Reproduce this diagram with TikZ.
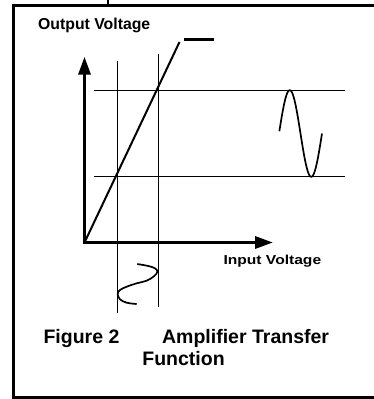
\documentclass[tikz,border=0pt]{standalone}
\usepackage{fontspec}
\setmainfont{Liberation Sans}
\usetikzlibrary{arrows.meta, positioning}
\tikzstyle{axis}    = [line width=3.3pt, line join=miter,
                       {Triangle[length=18pt,width=12pt]}-{Triangle[length=18pt,width=12pt]}]
\tikzstyle{guide}   = [line width=1pt]
\tikzstyle{wave}    = [line width=1.7pt]

\begin{document}
\begin{tikzpicture}[x=1pt, y=-1pt,
    axislabel/.style={inner sep=0pt, font=\bfseries\fontsize{15.8}{18}\selectfont},
    caption/.style={inner sep=0pt, font=\bfseries\fontsize{19.5}{22}\selectfont}]

  \useasboundingbox (0,0) rectangle (374,399);

  % frame
  \draw[line width=3pt] (380,5.3) -- (13.5,5.3) -- (13.5,397.5) -- (380,397.5);
  \draw[line width=2pt] (108.3,0) -- (108.3,5.3);

  % axes
  \coordinate (O)    at (84.5,242.5);
  \coordinate (ytip) at (84.5,56.7);
  \coordinate (xtip) at (273,242.5);
  \draw[axis] (ytip) -- (O) -- (xtip);

  % transfer line and clip level
  \coordinate (top) at (179.5,42);
  \draw[line width=2pt] (O) -- (top);
  \draw[line width=3pt] (184,39.2) -- (214,39.2);

  % guide lines
  \draw[guide] (117.5,61)   -- (117.5,313.3);
  \draw[guide] (158.3,54)   -- (158.3,306.7);
  \draw[guide] (94,90)      -- (345,90);
  \draw[guide] (94,176.7)   -- (345,176.7);

  % output and input waves
  \draw[wave] plot[domain=3:360, samples=90, smooth]
    ({279+\x/360*43}, {133.5-43.3*sin(\x)});
  \draw[wave] plot[smooth, tension=0.6] coordinates {
    (137.3,264) (148.3,266) (155,268.3) (157.3,271.7) (154.3,276)
    (146.7,280.7) (136.7,283.3) (126.7,286.7) (120,290) (117.7,294)
    (120,299.3) (126.7,302.7) (136.7,304)};

  % labels
  \node[axislabel, anchor=base west] (ylabel) at (38,29.3) {Output Voltage};
  \node[axislabel, anchor=base west, xscale=1.2,
        font=\bfseries\fontsize{13}{15}\selectfont] (xlabel) at (223.3,264.3) {Input Voltage};
  \node[caption, anchor=base] (capA) at (186.3,343.3) {Figure 2\hspace{42.7pt}Amplifier Transfer};
  \node[caption, anchor=base] (capB) at (183.5,365.5) {Function};
\end{tikzpicture}
\end{document}
